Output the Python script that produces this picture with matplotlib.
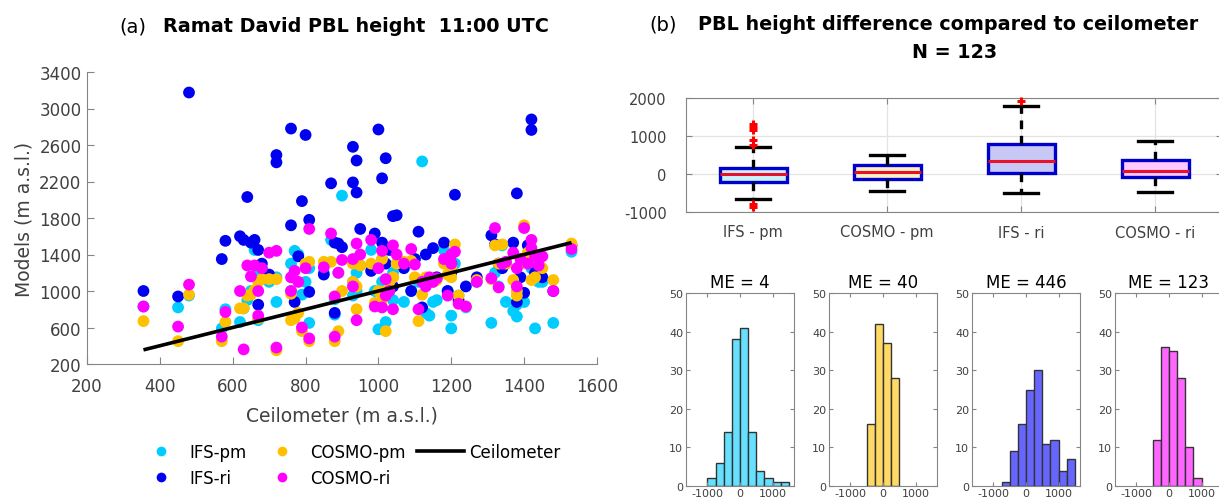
import matplotlib
matplotlib.use('Agg')
import matplotlib.pyplot as plt
from matplotlib.lines import Line2D

plt.rcParams['axes.unicode_minus'] = False

# ---------------- data (a): scatter ----------------
ceil = [355, 450, 480, 570, 580, 620, 630, 640, 650, 660, 670, 670, 680, 700, 720, 720,
        760, 760, 770, 780, 790, 800, 810, 810, 850, 870, 880, 880, 890, 900, 930, 930,
        940, 940, 950, 980, 990, 1000, 1010, 1010, 1020, 1020, 1030, 1040, 1040, 1050,
        1070, 1090, 1100, 1110, 1120, 1130, 1140, 1150, 1160, 1180, 1190, 1200, 1200,
        1210, 1220, 1240, 1270, 1310, 1320, 1330, 1340, 1350, 1370, 1380, 1380, 1390,
        1400, 1410, 1420, 1420, 1430, 1440, 1450, 1480, 1530]
ifs_pm = [830, 820, 950, 590, 800, 660, 810, 900, 1000, 1450, 680, 1200, 1250, 1100, 880, 1150,
          1300, 1000, 1440, 1400, 960, 1100, 650, 1250, 1200, 1560, 740, 910, 1200, 2045, 1100, 950,
          1200, 1000, 1280, 1450, 1000, 580, 1350, 1100, 660, 1050, 1000, 900, 1200, 1300,
          880, 1000, 1350, 1100, 2420, 760, 730, 880, 900, 1450, 1000, 730, 590,
          1300, 950, 820, 1100, 650, 1200, 1050, 1500, 880, 780, 720, 850, 1300,
          880, 1400, 1250, 1300, 590, 1100, 1100, 650, 1430]
ifs_ri = [1000, 940, 3175, 1350, 1550, 1600, 1560, 2030, 1530, 1560, 850, 1450, 1300, 1180, 2490, 2410,
          1720, 2780, 880, 1380, 1985, 2710, 1780, 990, 1180, 2180, 760, 1530, 1520, 1480, 2580, 2190,
          2430, 2080, 1680, 1220, 1630, 2770, 2235, 1530, 2455, 1300, 1450, 1820, 1050, 1830,
          1250, 1000, 1350, 1650, 820, 1400, 1100, 1470, 1150, 1530, 1000, 1200, 1300,
          2055, 900, 1050, 1150, 1610, 1510, 1300, 1250, 1300, 1530, 2070, 880, 1150,
          980, 1500, 2880, 2765, 1200, 1380, 1150, 1000, 1500]
cosmo_pm = [670, 450, 960, 450, 660, 810, 810, 950, 960, 1010, 700, 1100, 1130, 1130, 350, 1130,
            680, 970, 700, 760, 560, 1300, 450, 1320, 1320, 1320, 450, 940, 560, 1000, 1300, 1100,
            800, 1050, 1280, 1300, 870, 1000, 900, 1350, 560, 1000, 1100, 1150, 1150, 1300,
            1320, 1330, 1150, 670, 960, 1150, 1100, 1100, 1120, 1300, 1180, 1150, 1260,
            1510, 950, 830, 1120, 1130, 1500, 1300, 1510, 1300, 1120, 950, 1000, 1300,
            1720, 1420, 1120, 1450, 1150, 1300, 1250, 1120, 1520]
cosmo_ri = [830, 610, 1070, 500, 770, 1000, 360, 1280, 1160, 1280, 730, 1000, 1250, 1420, 380, 1440,
            1150, 1000, 1220, 1100, 600, 1250, 480, 1680, 1260, 1630, 500, 940, 1200, 1340, 1350, 1050,
            680, 1520, 1400, 1560, 830, 1250, 820, 1440, 950, 1130, 1000, 1500, 800, 1400,
            1300, 1460, 1290, 800, 1100, 1050, 1150, 1100, 1140, 1350, 950, 1400, 1300,
            1430, 860, 830, 1100, 1140, 1690, 1040, 1300, 1320, 1420, 1050, 1250, 1350,
            1690, 1300, 1560, 1470, 1380, 1280, 1380, 1000, 1460]
series_names = ['IFS-pm', 'IFS-ri', 'COSMO-pm', 'COSMO-ri']
series_colors = ['#00ccff', '#0000f0', '#ffc000', '#ff00ff']

# ---------------- data (b): box plot ----------------
box_labels = ['IFS - pm', 'COSMO - pm', 'IFS - ri', 'COSMO - ri']
box_med = [10, 40, 335, 85]
box_q1 = [-210, -140, 30, -80]
box_q3 = [160, 240, 780, 380]
box_whislo = [-650, -460, -500, -475]
box_whishi = [700, 510, 1780, 870]
box_fliers = [[760, 900, 1150, 1230, 1320, -800, -860], [], [1930], []]
box_fill = ['#c8f3fc', '#fff0c4', '#c8c8f6', '#ffc8ff']

# ---------------- data (b): histograms ----------------
hist_titles = ['ME = 4', 'ME = 40', 'ME = 446', 'ME = 123']
hist_bin_starts = [-1000, -750, -500, -250, 0, 250, 500, 750, 1000, 1250]
hist_counts = [
    [2, 6, 14, 38, 41, 14, 4, 2, 1, 1],      # IFS-pm
    [0, 0, 16, 42, 37, 28, 0, 0, 0, 0],      # COSMO-pm
    [0, 1, 9, 16, 25, 30, 11, 12, 4, 7],     # IFS-ri
    [0, 0, 12, 36, 35, 28, 10, 2, 0, 0],     # COSMO-ri
]
hist_colors = ['#66e0ff', '#ffd966', '#6666ff', '#ff66ff']

# ---------------- figure ----------------
W, H = 1219, 502
fig = plt.figure(figsize=(W / 100, H / 100), dpi=100)

def rect(l, t, r, b):
    return [l / W, 1 - b / H, (r - l) / W, (b - t) / H]

SPINE = '#858585'
TXT = '#404040'

# ----- scatter -----
ax = fig.add_axes(rect(87, 73, 597, 365))
series = [ifs_pm, ifs_ri, cosmo_pm, cosmo_ri]
for vals, col in zip(series, series_colors):
    ax.scatter(ceil, vals, s=72, color=col, edgecolors='none', zorder=2)
lx = [min(ceil), max(ceil)]
ax.plot(lx, lx, color='black', lw=2.6, zorder=3, solid_capstyle='butt')
ax.set_xlim(200, 1600)
ax.set_ylim(200, 3400)
ax.set_xticks(range(200, 1601, 200))
ax.set_yticks(range(200, 3401, 400))
for s in ['top', 'right']:
    ax.spines[s].set_visible(False)
for s in ['left', 'bottom']:
    ax.spines[s].set_color(SPINE)
ax.tick_params(direction='in', length=5, color=SPINE, labelcolor=TXT, labelsize=12)
ax.tick_params(axis='x', pad=9)
ax.tick_params(axis='y', pad=4)
ax.set_xlabel('Ceilometer (m a.s.l.)', fontsize=13.5, color=TXT, labelpad=8)
ax.set_ylabel('Models (m a.s.l.)', fontsize=13.5, color=TXT, labelpad=4)

handles = [Line2D([], [], ls='none', marker='o', ms=7, mec='none', mfc=series_colors[0]),
           Line2D([], [], ls='none', marker='o', ms=7, mec='none', mfc=series_colors[1]),
           Line2D([], [], ls='none', marker='o', ms=7, mec='none', mfc=series_colors[2]),
           Line2D([], [], ls='none', marker='o', ms=7, mec='none', mfc=series_colors[3]),
           Line2D([], [], color='black', lw=2.6)]
labels = ['IFS-pm', 'IFS-ri', 'COSMO-pm', 'COSMO-ri', 'Ceilometer']
fig.legend(handles, labels, ncol=3, loc='center', bbox_to_anchor=(349 / W, 1 - 466 / H),
           frameon=False, fontsize=12, handlelength=2.8, handletextpad=0.3,
           columnspacing=0.7, labelspacing=0.45)

fig.text(119 / W, 1 - 27 / H, '(a)', ha='left', va='center', fontsize=14)
fig.text(163 / W, 1 - 27 / H, 'Ramat David PBL height  11:00 UTC', ha='left', va='center',
         fontsize=13.8, fontweight='bold')

# ----- box plot -----
bx = fig.add_axes(rect(686, 99, 1222, 213))
stats = []
for i in range(4):
    stats.append(dict(med=box_med[i], q1=box_q1[i], q3=box_q3[i],
                      whislo=box_whislo[i], whishi=box_whishi[i], fliers=box_fliers[i]))
bp = bx.bxp(stats, positions=[1, 2, 3, 4], widths=0.5, patch_artist=True, showfliers=True,
            boxprops=dict(edgecolor='#0000cc', linewidth=2.4),
            whiskerprops=dict(color='black', linewidth=2.4, linestyle=(0, (2.6, 2.0))),
            capprops=dict(color='black', linewidth=2.4),
            medianprops=dict(color='#e8102a', linewidth=2.2),
            flierprops=dict(marker='+', markersize=6, markeredgewidth=2.2,
                            markeredgecolor='red', linestyle='none'),
            capwidths=0.25)
for patch, fc in zip(bp['boxes'], box_fill):
    patch.set_facecolor(fc)
for ln in bp['caps']:
    ln.set_zorder(3)
for fl in bp['fliers']:
    fl.set_clip_on(False)
    fl.set_zorder(4)
bx.set_xlim(0.5, 4.5)
bx.set_ylim(-1000, 2000)
bx.set_yticks([-1000, 0, 1000, 2000])
bx.set_xticks([1, 2, 3, 4])
bx.set_xticklabels(box_labels)
bx.grid(True, color='#e3e3e3', lw=0.9)
bx.set_axisbelow(True)
for s in bx.spines.values():
    s.set_color(SPINE)
bx.tick_params(direction='in', length=4, color=SPINE, labelcolor=TXT, labelsize=10.5,
               top=True, right=True)
bx.tick_params(axis='y', pad=14)
bx.tick_params(axis='x', pad=9)

fig.text(649 / W, 1 - 25 / H, '(b)', ha='left', va='center', fontsize=14)
fig.text(698 / W, 1 - 25 / H, 'PBL height difference compared to ceilometer', ha='left',
         va='center', fontsize=13.8, fontweight='bold')
fig.text(955 / W, 1 - 53 / H, 'N = 123', ha='center', va='center', fontsize=13.8,
         fontweight='bold')

# ----- histograms -----
for i in range(4):
    hx = fig.add_axes(rect(686 + 143 * i, 294, 794 + 143 * i, 487))
    xs = [x for x, c in zip(hist_bin_starts, hist_counts[i]) if c > 0]
    cs = [c for c in hist_counts[i] if c > 0]
    hx.bar(xs, cs, width=250, align='edge', color=hist_colors[i], edgecolor='#333333', lw=1.0)
    hx.set_xlim(-1660, 1660)
    hx.set_ylim(0, 50)
    hx.set_xticks([-1000, 0, 1000])
    hx.set_yticks([0, 10, 20, 30, 40, 50])
    for s in hx.spines.values():
        s.set_color(SPINE)
    hx.tick_params(direction='in', length=3, color=SPINE, labelcolor=TXT, labelsize=8,
                   top=True, right=True)
    hx.tick_params(axis='y', pad=2)
    hx.tick_params(axis='x', pad=1.5)
    hx.set_title(hist_titles[i], fontsize=12, pad=4)

fig.savefig('out.png', dpi=100)
